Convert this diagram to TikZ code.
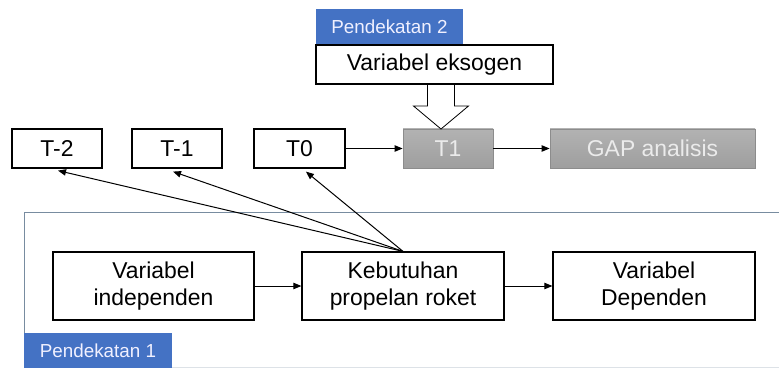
\documentclass[tikz,border=0pt]{standalone}
\usepackage{fontspec}
\setmainfont{Liberation Sans}
\usetikzlibrary{arrows.meta}
\definecolor{tagblue}{RGB}{68,114,196}
\definecolor{framegray}{RGB}{120,140,160}
\definecolor{boxgray}{RGB}{158,158,158}
\tikzset{
  wbox/.style={draw, line width=0.030cm, fill=white, inner sep=0pt, align=center},
  gbox/.style={draw=black!45, line width=0.020cm, top color=black!30, bottom color=boxgray, text=white!92!black, inner sep=0pt, align=center},
  tagbox/.style={fill=tagblue, text=white!94!blue, inner sep=0pt, font=\fontsize{13.4}{15}\selectfont, minimum height=0.875cm},
  arr/.style={line width=0.025cm, -{Triangle[length=0.2cm,width=0.16cm]}},
}
\begin{document}
\begin{tikzpicture}
            \useasboundingbox (0,0) rectangle (19.475000,9.200000);
            {\fontsize{16.3}{19.5}\selectfont

            % Drawing frame of Pendekatan 1
            \draw [framegray, line width=0.025cm] (19.475000,3.900000) -- (0.600000,3.900000) -- (0.600000,0.025000);%
            \draw [framegray!25, line width=0.020cm] (0.600000,0.025000) -- (19.475000,0.025000);%
            \draw (2.450000,0.437500) node [tagbox, minimum width=3.700000cm] (tagA) {Pendekatan 1};%

            % Drawing boxes T-2, T-1, T0
            \draw (1.425000,5.487500) node [wbox, minimum width=2.250000cm, minimum height=0.975000cm] (tm2) {T-2};%
            \draw (4.425000,5.487500) node [wbox, minimum width=2.250000cm, minimum height=0.975000cm] (tm1) {T-1};%
            \draw (7.487500,5.487500) node [wbox, minimum width=2.275000cm, minimum height=0.975000cm] (t0) {T0};%

            % Drawing boxes T1 and GAP analisis
            \draw (11.200000,5.487500) node [gbox, minimum width=2.250000cm, minimum height=0.975000cm] (t1) {T1};%
            \draw (16.312500,5.487500) node [gbox, minimum width=5.125000cm, minimum height=0.975000cm] (gap) {GAP analisis};%

            % Drawing hollow arrow into T1
            \coordinate (arrtip) at (11.025000,5.975000);%
            \draw [line width=0.020cm, fill=white] (arrtip) -- ++(0.687500,0.575000) -- ++(-0.350000,0) -- ++(0,0.550000) -- ++(-0.675000,0) -- ++(0,-0.550000) -- ++(-0.350000,0) -- cycle;%

            % Drawing Pendekatan 2 with Variabel eksogen
            \draw (9.737500,8.525000) node [tagbox, minimum width=3.675000cm, minimum height=0.900000cm] (tagB) {Pendekatan 2};%
            \draw (10.862500,7.587500) node [wbox, minimum width=5.925000cm, minimum height=0.975000cm] (eks) {Variabel eksogen};%

            % Drawing boxes of Pendekatan 1
            \draw (3.837500,2.050000) node [wbox, minimum width=5.025000cm, minimum height=1.700000cm] (ind) {Variabel\\independen};%
            \draw (10.075000,2.050000) node [wbox, minimum width=5.050000cm, minimum height=1.700000cm] (keb) {Kebutuhan\\propelan roket};%
            \draw (16.350000,2.050000) node [wbox, minimum width=5.050000cm, minimum height=1.700000cm] (dep) {Variabel\\Dependen};%

            % Drawing arrows
            \draw [arr] (t0.east) -- (t1.west);%
            \draw [arr] (t1.east) -- (gap.west);%
            \draw [arr] (ind.east) -- (keb.west);%
            \draw [arr] (keb.east) -- (dep.west);%
            \draw [arr] (keb.north) -- ([xshift=0.025cm,yshift=-0.050cm]tm2.south);%
            \draw [arr] (keb.north) -- ([xshift=-0.100cm,yshift=-0.075cm]tm1.south);%
            \draw [arr] (keb.north) -- ([xshift=0.160cm,yshift=-0.075cm]t0.south);%
            }
        \end{tikzpicture}
\end{document}
